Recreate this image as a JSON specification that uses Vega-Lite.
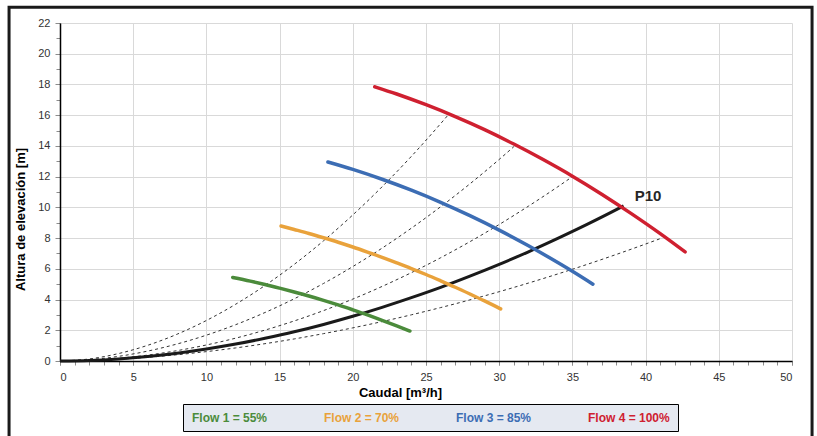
{
  "$schema": "https://vega.github.io/schema/vega-lite/v6.json",
  "autosize": {"type": "none"},
  "width": 732,
  "height": 338,
  "padding": {"left": 60, "top": 23, "right": 25, "bottom": 75},
  "background": "white",
  "config": {
    "font": "Liberation Sans",
    "view": {"stroke": null}
  },
  "datasets": {
    "flows": [
      {"flow": "Flow 1 = 55%", "q": 11.8, "h": 5.44},
      {"flow": "Flow 1 = 55%", "q": 13, "h": 5.2},
      {"flow": "Flow 1 = 55%", "q": 14, "h": 4.98},
      {"flow": "Flow 1 = 55%", "q": 15, "h": 4.74},
      {"flow": "Flow 1 = 55%", "q": 16, "h": 4.49},
      {"flow": "Flow 1 = 55%", "q": 17, "h": 4.23},
      {"flow": "Flow 1 = 55%", "q": 18, "h": 3.95},
      {"flow": "Flow 1 = 55%", "q": 19, "h": 3.65},
      {"flow": "Flow 1 = 55%", "q": 20, "h": 3.33},
      {"flow": "Flow 1 = 55%", "q": 21, "h": 3.0},
      {"flow": "Flow 1 = 55%", "q": 22, "h": 2.65},
      {"flow": "Flow 1 = 55%", "q": 23, "h": 2.29},
      {"flow": "Flow 1 = 55%", "q": 23.9, "h": 1.95},
      {"flow": "Flow 2 = 70%", "q": 15.1, "h": 8.79},
      {"flow": "Flow 2 = 70%", "q": 16, "h": 8.56},
      {"flow": "Flow 2 = 70%", "q": 17, "h": 8.3},
      {"flow": "Flow 2 = 70%", "q": 18, "h": 8.02},
      {"flow": "Flow 2 = 70%", "q": 19, "h": 7.73},
      {"flow": "Flow 2 = 70%", "q": 20, "h": 7.42},
      {"flow": "Flow 2 = 70%", "q": 21, "h": 7.09},
      {"flow": "Flow 2 = 70%", "q": 22, "h": 6.75},
      {"flow": "Flow 2 = 70%", "q": 23, "h": 6.39},
      {"flow": "Flow 2 = 70%", "q": 24, "h": 6.02},
      {"flow": "Flow 2 = 70%", "q": 25, "h": 5.63},
      {"flow": "Flow 2 = 70%", "q": 26, "h": 5.22},
      {"flow": "Flow 2 = 70%", "q": 27, "h": 4.8},
      {"flow": "Flow 2 = 70%", "q": 28, "h": 4.36},
      {"flow": "Flow 2 = 70%", "q": 29, "h": 3.91},
      {"flow": "Flow 2 = 70%", "q": 30.1, "h": 3.39},
      {"flow": "Flow 3 = 85%", "q": 18.3, "h": 12.95},
      {"flow": "Flow 3 = 85%", "q": 20, "h": 12.47},
      {"flow": "Flow 3 = 85%", "q": 22, "h": 11.83},
      {"flow": "Flow 3 = 85%", "q": 24, "h": 11.12},
      {"flow": "Flow 3 = 85%", "q": 26, "h": 10.33},
      {"flow": "Flow 3 = 85%", "q": 28, "h": 9.46},
      {"flow": "Flow 3 = 85%", "q": 30, "h": 8.52},
      {"flow": "Flow 3 = 85%", "q": 32, "h": 7.5},
      {"flow": "Flow 3 = 85%", "q": 34, "h": 6.41},
      {"flow": "Flow 3 = 85%", "q": 35, "h": 5.84},
      {"flow": "Flow 3 = 85%", "q": 36.4, "h": 5.0},
      {"flow": "Flow 4 = 100%", "q": 21.5, "h": 17.85},
      {"flow": "Flow 4 = 100%", "q": 23, "h": 17.38},
      {"flow": "Flow 4 = 100%", "q": 25, "h": 16.68},
      {"flow": "Flow 4 = 100%", "q": 27, "h": 15.91},
      {"flow": "Flow 4 = 100%", "q": 29, "h": 15.06},
      {"flow": "Flow 4 = 100%", "q": 31, "h": 14.12},
      {"flow": "Flow 4 = 100%", "q": 33, "h": 13.11},
      {"flow": "Flow 4 = 100%", "q": 35, "h": 12.03},
      {"flow": "Flow 4 = 100%", "q": 37, "h": 10.86},
      {"flow": "Flow 4 = 100%", "q": 39, "h": 9.61},
      {"flow": "Flow 4 = 100%", "q": 41, "h": 8.29},
      {"flow": "Flow 4 = 100%", "q": 42.7, "h": 7.1}
    ],
    "system": [
      {"q": 0, "h": 0}, {"q": 2, "h": 0.037}, {"q": 4, "h": 0.137}, {"q": 6, "h": 0.295},
      {"q": 8, "h": 0.51}, {"q": 10, "h": 0.78}, {"q": 12, "h": 1.1}, {"q": 14, "h": 1.48},
      {"q": 16, "h": 1.9}, {"q": 18, "h": 2.38}, {"q": 20, "h": 2.91}, {"q": 22, "h": 3.49},
      {"q": 24, "h": 4.12}, {"q": 26, "h": 4.79}, {"q": 28, "h": 5.52}, {"q": 30, "h": 6.29},
      {"q": 32, "h": 7.11}, {"q": 34, "h": 7.98}, {"q": 36, "h": 8.89}, {"q": 38, "h": 9.85},
      {"q": 38.5, "h": 10.1}
    ],
    "dashed": [
      {"c": "d1", "q": 0, "h": 0}, {"c": "d1", "q": 2, "h": 0.134}, {"c": "d1", "q": 4, "h": 0.484},
      {"c": "d1", "q": 6, "h": 1.025}, {"c": "d1", "q": 8, "h": 1.745}, {"c": "d1", "q": 10, "h": 2.637},
      {"c": "d1", "q": 12, "h": 3.694}, {"c": "d1", "q": 14, "h": 4.913}, {"c": "d1", "q": 16, "h": 6.291},
      {"c": "d1", "q": 18, "h": 7.824}, {"c": "d1", "q": 20, "h": 9.507}, {"c": "d1", "q": 22, "h": 11.34},
      {"c": "d1", "q": 24, "h": 13.32}, {"c": "d1", "q": 26, "h": 15.45}, {"c": "d1", "q": 26.5, "h": 16.0},
      {"c": "d2", "q": 0, "h": 0}, {"c": "d2", "q": 2, "h": 0.083}, {"c": "d2", "q": 4, "h": 0.303},
      {"c": "d2", "q": 6, "h": 0.647}, {"c": "d2", "q": 8, "h": 1.108}, {"c": "d2", "q": 10, "h": 1.681},
      {"c": "d2", "q": 12, "h": 2.364}, {"c": "d2", "q": 14, "h": 3.155}, {"c": "d2", "q": 16, "h": 4.05},
      {"c": "d2", "q": 18, "h": 5.047}, {"c": "d2", "q": 20, "h": 6.147}, {"c": "d2", "q": 22, "h": 7.346},
      {"c": "d2", "q": 24, "h": 8.645}, {"c": "d2", "q": 26, "h": 10.04}, {"c": "d2", "q": 28, "h": 11.53},
      {"c": "d2", "q": 30, "h": 13.12}, {"c": "d2", "q": 31, "h": 13.95},
      {"c": "d3", "q": 0, "h": 0}, {"c": "d3", "q": 2, "h": 0.045}, {"c": "d3", "q": 4, "h": 0.175},
      {"c": "d3", "q": 6, "h": 0.385}, {"c": "d3", "q": 8, "h": 0.675}, {"c": "d3", "q": 10, "h": 1.043},
      {"c": "d3", "q": 12, "h": 1.488}, {"c": "d3", "q": 14, "h": 2.01}, {"c": "d3", "q": 16, "h": 2.608},
      {"c": "d3", "q": 18, "h": 3.281}, {"c": "d3", "q": 20, "h": 4.03}, {"c": "d3", "q": 22, "h": 4.853},
      {"c": "d3", "q": 24, "h": 5.75}, {"c": "d3", "q": 26, "h": 6.721}, {"c": "d3", "q": 28, "h": 7.766},
      {"c": "d3", "q": 30, "h": 8.885}, {"c": "d3", "q": 32, "h": 10.08}, {"c": "d3", "q": 34, "h": 11.34},
      {"c": "d3", "q": 35, "h": 12.0},
      {"c": "d4", "q": 0, "h": 0}, {"c": "d4", "q": 2, "h": 0.033}, {"c": "d4", "q": 4, "h": 0.115},
      {"c": "d4", "q": 6, "h": 0.241}, {"c": "d4", "q": 8, "h": 0.407}, {"c": "d4", "q": 10, "h": 0.611},
      {"c": "d4", "q": 12, "h": 0.851}, {"c": "d4", "q": 14, "h": 1.127}, {"c": "d4", "q": 16, "h": 1.437},
      {"c": "d4", "q": 18, "h": 1.781}, {"c": "d4", "q": 20, "h": 2.157}, {"c": "d4", "q": 22, "h": 2.565},
      {"c": "d4", "q": 24, "h": 3.006}, {"c": "d4", "q": 26, "h": 3.477}, {"c": "d4", "q": 28, "h": 3.978},
      {"c": "d4", "q": 30, "h": 4.511}, {"c": "d4", "q": 32, "h": 5.073}, {"c": "d4", "q": 34, "h": 5.665},
      {"c": "d4", "q": 36, "h": 6.286}, {"c": "d4", "q": 38, "h": 6.936}, {"c": "d4", "q": 40, "h": 7.614},
      {"c": "d4", "q": 41.1, "h": 8.0}
    ],
    "label": [{"q": 38.5, "h": 10.1, "text": "P10"}]
  },
  "resolve": {"axis": {"x": "independent", "y": "independent"}},
  "layer": [
    {
      "data": {"values": [{}]},
      "mark": {"type": "rect", "fill": null, "stroke": "#1a1a1a", "strokeWidth": 3, "clip": false},
      "encoding": {
        "x": {"datum": -3.48, "type": "quantitative", "scale": {"domain": [0, 50], "nice": false}, "axis": null},
        "x2": {"datum": 51.37},
        "y": {"datum": 23.02, "type": "quantitative", "scale": {"domain": [0, 22], "nice": false}, "axis": null},
        "y2": {"datum": -6}
      }
    },
    {
      "data": {"name": "dashed"},
      "mark": {"type": "line", "interpolate": "monotone", "stroke": "#333333", "strokeWidth": 1, "strokeDash": [3, 3]},
      "encoding": {
        "x": {"field": "q", "type": "quantitative",
          "axis": {"orient": "bottom", "values": [0,1,2,3,4,5,6,7,8,9,10,11,12,13,14,15,16,17,18,19,20,21,22,23,24,25,26,27,28,29,30,31,32,33,34,35,36,37,38,39,40,41,42,43,44,45,46,47,48,49,50],
            "labels": false, "domain": false, "grid": false, "ticks": true, "tickSize": 4, "tickColor": "#8c8c8c", "title": null}},
        "y": {"field": "h", "type": "quantitative",
          "axis": {"orient": "left", "values": [0,1,2,3,4,5,6,7,8,9,10,11,12,13,14,15,16,17,18,19,20,21,22],
            "labels": false, "domain": false, "grid": false, "ticks": true, "tickSize": 4, "tickColor": "#8c8c8c", "title": null}},
        "detail": {"field": "c"}
      }
    },
    {
      "data": {"name": "system"},
      "mark": {"type": "line", "interpolate": "monotone", "stroke": "#1a1a1a", "strokeWidth": 3},
      "encoding": {
        "x": {"field": "q", "type": "quantitative", "axis": null},
        "y": {"field": "h", "type": "quantitative", "axis": null}
      }
    },
    {
      "data": {"name": "flows"},
      "mark": {"type": "line", "interpolate": "monotone", "strokeWidth": 3.5, "strokeCap": "round"},
      "encoding": {
        "x": {"field": "q", "type": "quantitative",
          "axis": {"orient": "bottom", "values": [0,5,10,15,20,25,30,35,40,45,50], "grid": true, "gridColor": "#d9d9d9",
            "domainColor": "#000000", "domainWidth": 1.5, "tickSize": 4, "tickColor": "#8c8c8c",
            "labelFont": "Liberation Sans", "labelFontSize": 11, "labelColor": "#333333", "labelPadding": 6,
            "title": "Caudal [m³/h]", "titleFontSize": 13, "titleFontWeight": "bold", "titleColor": "#000000", "titlePadding": 4, "titleX": 340}},
        "y": {"field": "h", "type": "quantitative",
          "axis": {"orient": "left", "values": [0,2,4,6,8,10,12,14,16,18,20,22], "grid": true, "gridColor": "#d9d9d9",
            "domainColor": "#000000", "domainWidth": 1.5, "tickSize": 5, "tickColor": "#8c8c8c",
            "labelFont": "Liberation Sans", "labelFontSize": 11, "labelColor": "#333333", "labelPadding": 5,
            "title": "Altura de elevación [m]", "titleFontSize": 13, "titleFontWeight": "bold", "titleColor": "#000000", "titlePadding": 10, "titleY": 196}},
        "color": {"field": "flow", "type": "nominal",
          "scale": {"domain": ["Flow 1 = 55%", "Flow 2 = 70%", "Flow 3 = 85%", "Flow 4 = 100%"],
                    "range": ["#4b8b3b", "#e9a23b", "#3c6db4", "#cf2030"]},
          "legend": {"orient": "none", "legendX": 123, "legendY": 381, "direction": "horizontal", "title": null,
            "fillColor": "#e5e9f1", "strokeColor": "#000000", "padding": 7.5,
            "symbolSize": 0, "symbolOpacity": 0, "symbolStrokeWidth": 0, "labelOffset": -10.5, "columnPadding": 55,
            "labelFont": "Liberation Sans", "labelFontSize": 12, "labelFontWeight": "bold",
            "encode": {"labels": {"update": {"fill": {"scale": "color", "field": "value"}}}}}}
      }
    },
    {
      "data": {"name": "label"},
      "mark": {"type": "text", "align": "left", "baseline": "middle", "dx": 11, "dy": -10, "fontSize": 15, "fontWeight": "bold", "color": "#262626", "font": "Liberation Sans"},
      "encoding": {
        "x": {"field": "q", "type": "quantitative", "axis": null},
        "y": {"field": "h", "type": "quantitative", "axis": null},
        "text": {"field": "text"}
      }
    }
  ]
}
